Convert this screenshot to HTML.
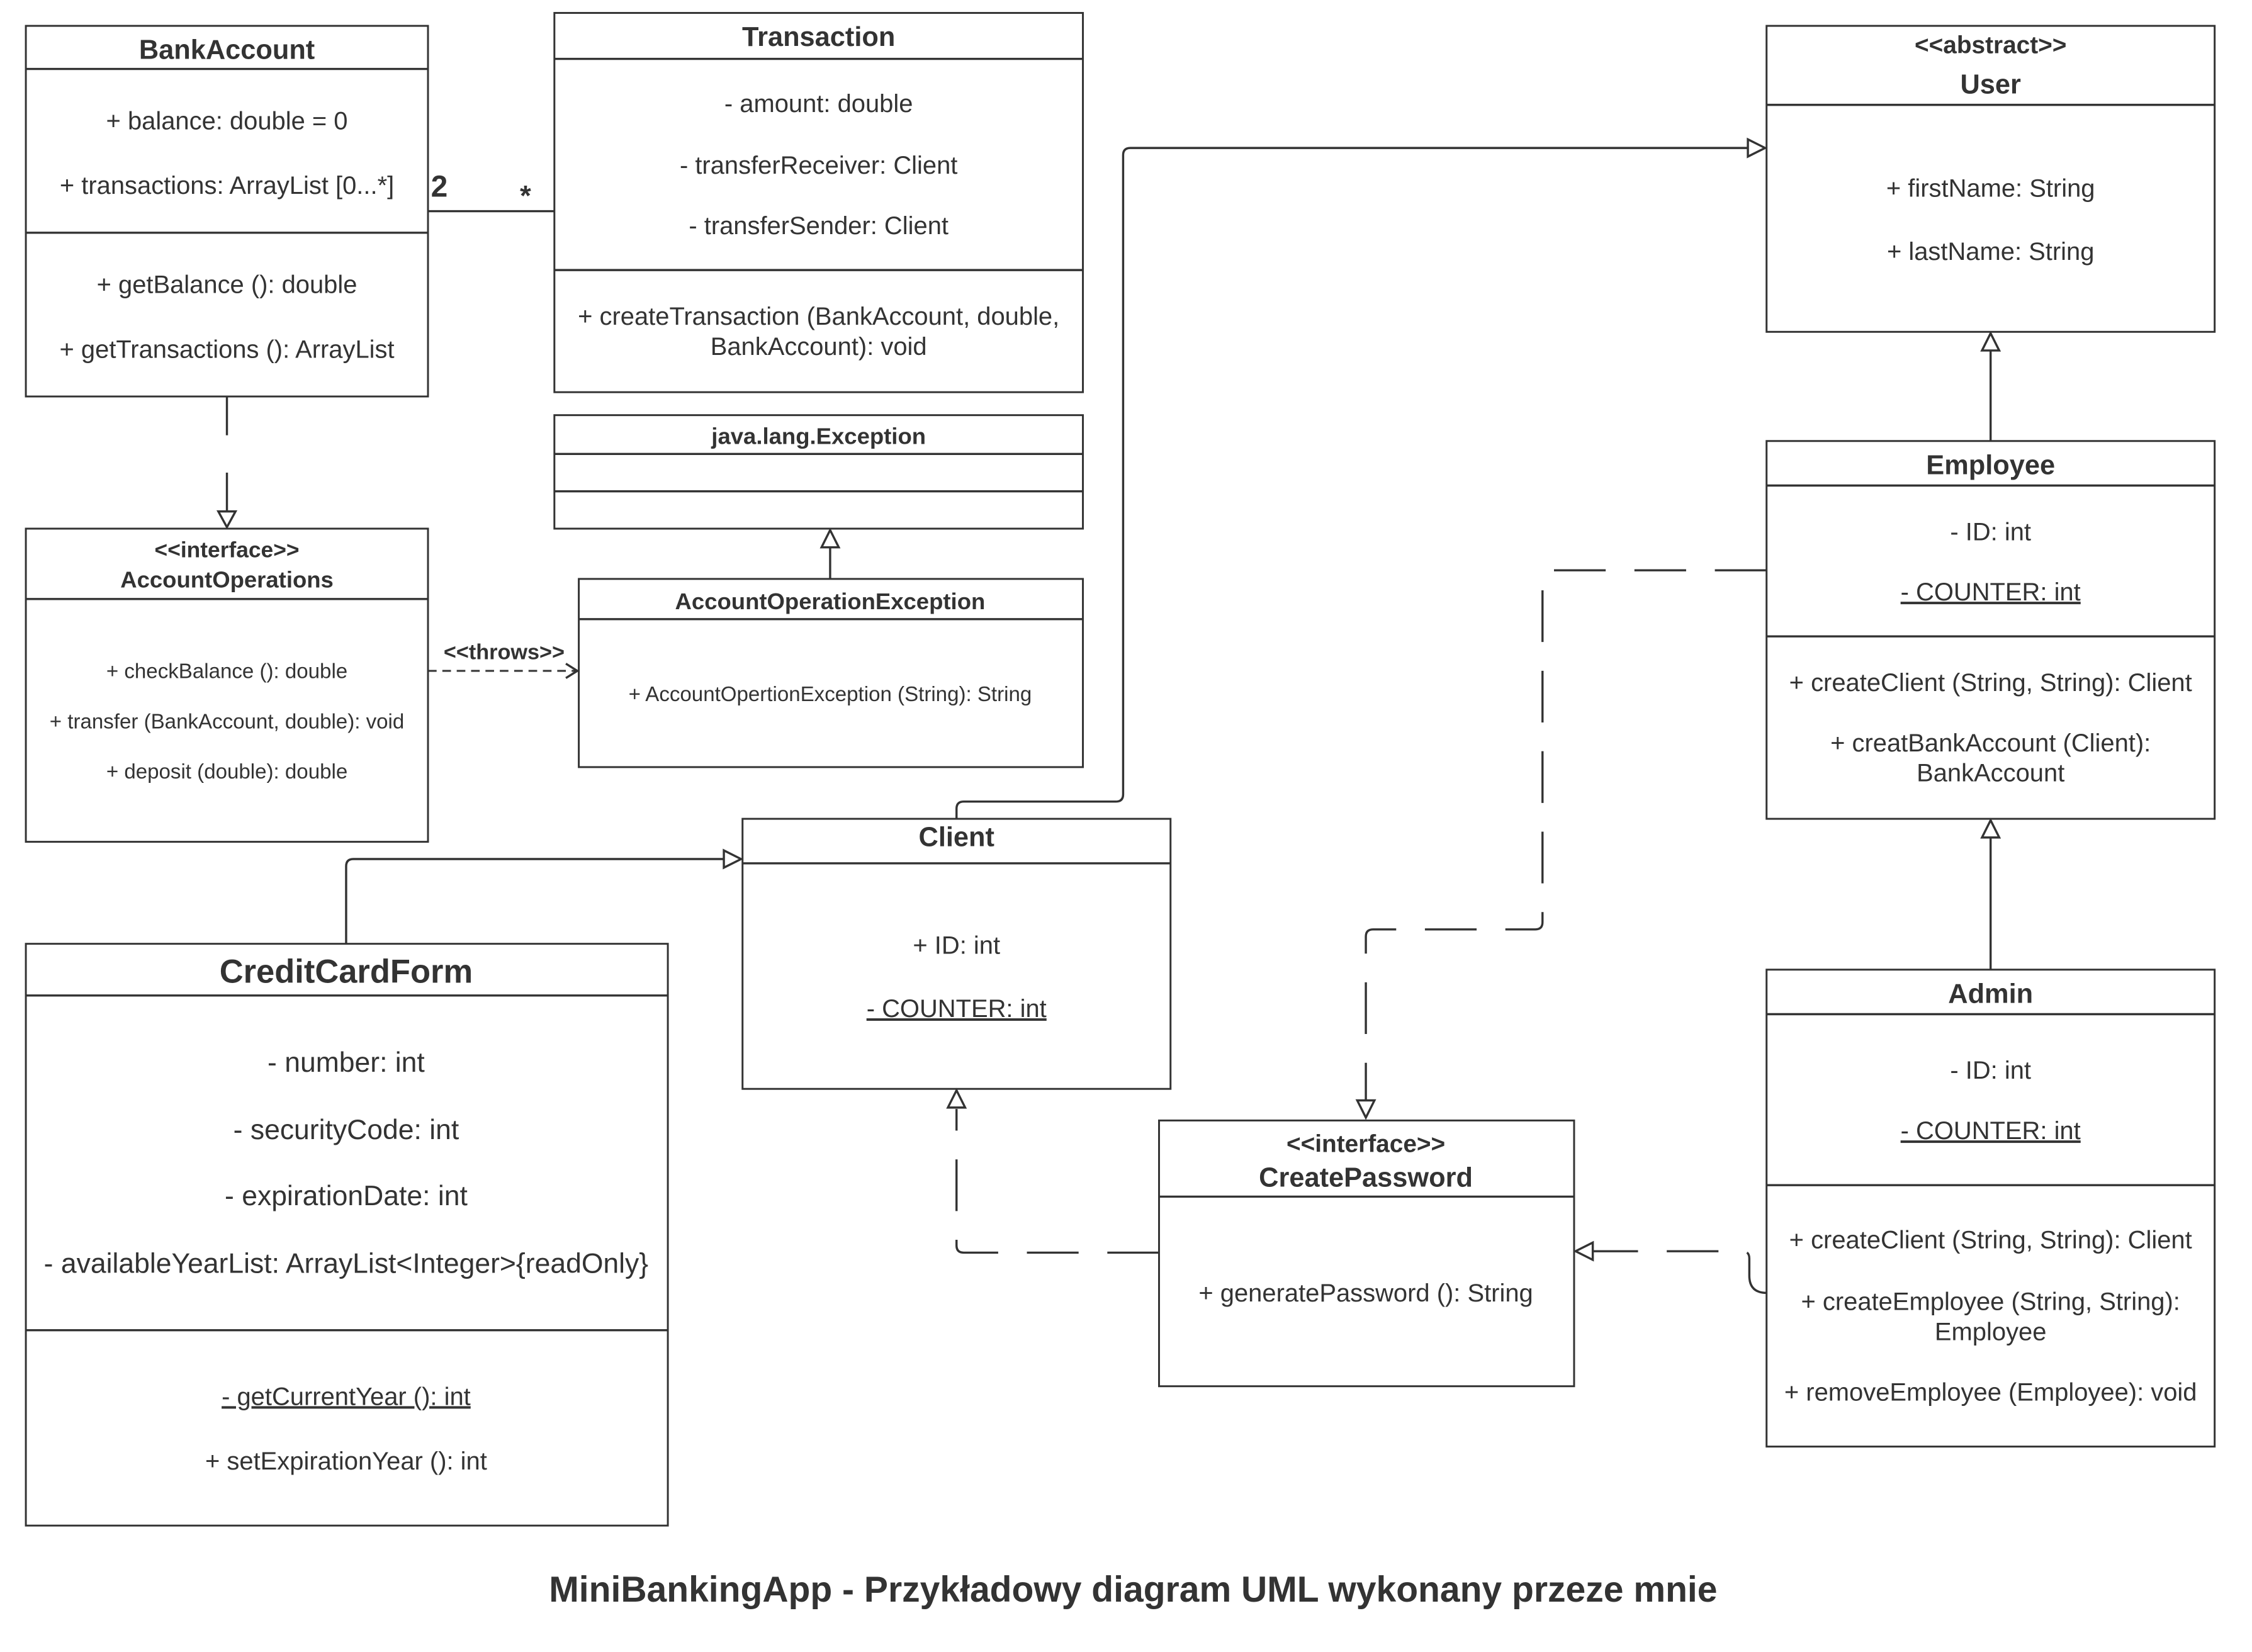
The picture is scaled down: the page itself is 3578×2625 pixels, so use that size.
<!DOCTYPE html>
<html><head><meta charset="utf-8"><style>
html,body{margin:0;padding:0;background:#fff}
svg{display:block}
text{font-family:"Liberation Sans",sans-serif;fill:#333}
.t{font-weight:bold;font-size:19px;text-anchor:middle}
.a{font-size:17.5px;text-anchor:middle}
.s{font-size:14.5px;text-anchor:middle}
.b{fill:#fff;stroke:#333;stroke-width:1.3}
.l{fill:none;stroke:#333;stroke-width:1.5}
.d{fill:none;stroke:#333;stroke-width:1.5;stroke-dasharray:36 20}
.d2{fill:none;stroke:#333;stroke-width:1.3;stroke-dasharray:6 4}
.h{fill:#fff;stroke:#333;stroke-width:1.5}
</style></head><body>
<svg width="3578" height="2625" viewBox="0 0 1568 1150" preserveAspectRatio="none" xmlns="http://www.w3.org/2000/svg">
<rect width="1568" height="1150" fill="#fff"/>

<!-- BankAccount -->
<rect class="b" x="18" y="18" width="280" height="258"/>
<line class="l" x1="18" y1="48" x2="298" y2="48"/><line class="l" x1="18" y1="162" x2="298" y2="162"/>
<text class="t" x="158" y="41">BankAccount</text>
<text class="a" x="158" y="90">+ balance: double = 0</text>
<text class="a" x="158" y="135">+ transactions: ArrayList [0...*]</text>
<text class="a" x="158" y="204">+ getBalance (): double</text>
<text class="a" x="158" y="249">+ getTransactions (): ArrayList</text>

<!-- Transaction -->
<rect class="b" x="386" y="9" width="368" height="264"/>
<line class="l" x1="386" y1="41" x2="754" y2="41"/><line class="l" x1="386" y1="188" x2="754" y2="188"/>
<text class="t" x="570" y="32">Transaction</text>
<text class="a" x="570" y="78">- amount: double</text>
<text class="a" x="570" y="121">- transferReceiver: Client</text>
<text class="a" x="570" y="163">- transferSender: Client</text>
<text class="a" x="570" y="226">+ createTransaction (BankAccount, double,</text>
<text class="a" x="570" y="247">BankAccount): void</text>

<line class="l" x1="298" y1="147" x2="386" y2="147"/>
<text x="300" y="137" style="font-weight:bold;font-size:21px">2</text>
<text x="362" y="143" style="font-weight:bold;font-size:20px">*</text>

<!-- java.lang.Exception -->
<rect class="b" x="386" y="289" width="368" height="79"/>
<line class="l" x1="386" y1="316" x2="754" y2="316"/><line class="l" x1="386" y1="342" x2="754" y2="342"/>
<text class="t" x="570" y="309" style="font-size:16px">java.lang.Exception</text>

<!-- AccountOperationException -->
<rect class="b" x="403" y="403" width="351" height="131"/>
<line class="l" x1="403" y1="431" x2="754" y2="431"/>
<text class="t" x="578" y="424" style="font-size:16px">AccountOperationException</text>
<text class="s" x="578" y="488">+ AccountOpertionException (String): String</text>
<line class="l" x1="578" y1="403" x2="578" y2="380"/>
<polygon class="h" points="578,369 572,381 584,381"/>

<!-- AccountOperations -->
<rect class="b" x="18" y="368" width="280" height="218"/>
<line class="l" x1="18" y1="417" x2="298" y2="417"/>
<text class="t" x="158" y="388" style="font-size:15.5px">&lt;&lt;interface&gt;&gt;</text>
<text class="t" x="158" y="409" style="font-size:16px">AccountOperations</text>
<text class="s" x="158" y="472">+ checkBalance (): double</text>
<text class="s" x="158" y="507">+ transfer (BankAccount, double): void</text>
<text class="s" x="158" y="542">+ deposit (double): double</text>

<path class="l" d="M158 276 V303 M158 329 V356"/>
<polygon class="h" points="158,367 152,356 164,356"/>

<path class="d2" d="M298 467 H401"/>
<path class="l" d="M394 462 L402 467 L394 472"/>
<text class="t" x="351" y="459" style="font-size:15px">&lt;&lt;throws&gt;&gt;</text>

<!-- User -->
<rect class="b" x="1230" y="18" width="312" height="213"/>
<line class="l" x1="1230" y1="73" x2="1542" y2="73"/>
<text class="t" x="1386" y="37" style="font-size:17px">&lt;&lt;abstract&gt;&gt;</text>
<text class="t" x="1386" y="65">User</text>
<text class="a" x="1386" y="137">+ firstName: String</text>
<text class="a" x="1386" y="181">+ lastName: String</text>

<!-- Employee -->
<rect class="b" x="1230" y="307" width="312" height="263"/>
<line class="l" x1="1230" y1="338" x2="1542" y2="338"/><line class="l" x1="1230" y1="443" x2="1542" y2="443"/>
<text class="t" x="1386" y="330">Employee</text>
<text class="a" x="1386" y="376">- ID: int</text>
<text class="a" x="1386" y="418" text-decoration="underline">- COUNTER: int</text>
<text class="a" x="1386" y="481">+ createClient (String, String): Client</text>
<text class="a" x="1386" y="523">+ creatBankAccount (Client):</text>
<text class="a" x="1386" y="544">BankAccount</text>
<line class="l" x1="1386" y1="307" x2="1386" y2="244"/>
<polygon class="h" points="1386,232 1380,244 1392,244"/>

<!-- Admin -->
<rect class="b" x="1230" y="675" width="312" height="332"/>
<line class="l" x1="1230" y1="706" x2="1542" y2="706"/><line class="l" x1="1230" y1="825" x2="1542" y2="825"/>
<text class="t" x="1386" y="698">Admin</text>
<text class="a" x="1386" y="751">- ID: int</text>
<text class="a" x="1386" y="793" text-decoration="underline">- COUNTER: int</text>
<text class="a" x="1386" y="869">+ createClient (String, String): Client</text>
<text class="a" x="1386" y="912">+ createEmployee (String, String):</text>
<text class="a" x="1386" y="933">Employee</text>
<text class="a" x="1386" y="975">+ removeEmployee (Employee): void</text>
<line class="l" x1="1386" y1="675" x2="1386" y2="583"/>
<polygon class="h" points="1386,571 1380,583 1392,583"/>

<!-- Client -->
<rect class="b" x="517" y="570" width="298" height="188"/>
<line class="l" x1="517" y1="601" x2="815" y2="601"/>
<text class="t" x="666" y="589">Client</text>
<text class="a" x="666" y="664">+ ID: int</text>
<text class="a" x="666" y="708" text-decoration="underline">- COUNTER: int</text>
<path class="l" d="M666 570 V563 Q666 558 671 558 H777 Q782 558 782 553 V108 Q782 103 787 103 H1218"/>
<polygon class="h" points="1229,103 1217,97 1217,109"/>

<!-- CreditCardForm -->
<rect class="b" x="18" y="657" width="447" height="405"/>
<line class="l" x1="18" y1="693" x2="465" y2="693"/><line class="l" x1="18" y1="926" x2="465" y2="926"/>
<text class="t" x="241" y="684" style="font-size:23px">CreditCardForm</text>
<text class="a" x="241" y="746" style="font-size:19.5px">- number: int</text>
<text class="a" x="241" y="793" style="font-size:19.5px">- securityCode: int</text>
<text class="a" x="241" y="839" style="font-size:19.5px">- expirationDate: int</text>
<text class="a" x="241" y="886" style="font-size:19.5px">- availableYearList: ArrayList&lt;Integer&gt;{readOnly}</text>
<text class="a" x="241" y="978" text-decoration="underline">- getCurrentYear (): int</text>
<text class="a" x="241" y="1023">+ setExpirationYear (): int</text>
<path class="l" d="M241 657 V603 Q241 598 246 598 H505"/>
<polygon class="h" points="516,598 504,592 504,604"/>

<!-- CreatePassword -->
<rect class="b" x="807" y="780" width="289" height="185"/>
<line class="l" x1="807" y1="833" x2="1096" y2="833"/>
<text class="t" x="951" y="802" style="font-size:17px">&lt;&lt;interface&gt;&gt;</text>
<text class="t" x="951" y="826">CreatePassword</text>
<text class="a" x="951" y="906">+ generatePassword (): String</text>

<!-- dashed realizations -->
<path class="d" d="M1230 397 H1079 Q1074 397 1074 402 V642 Q1074 647 1069 647 H956 Q951 647 951 652 V766"/>
<polygon class="h" points="951,778 945,766 957,766"/>
<path class="d" d="M807 872 H671 Q666 872 666 867 V772"/>
<polygon class="h" points="666,759 660,771 672,771"/>
<path class="d" d="M1230 900 Q1218 900 1218 888 V876 Q1218 871 1213 871 H1108"/>
<polygon class="h" points="1097,871 1109,865 1109,877"/>

<text class="t" x="789" y="1115" style="font-size:25px">MiniBankingApp - Przykładowy diagram UML wykonany przeze mnie</text>
</svg>
</body></html>
